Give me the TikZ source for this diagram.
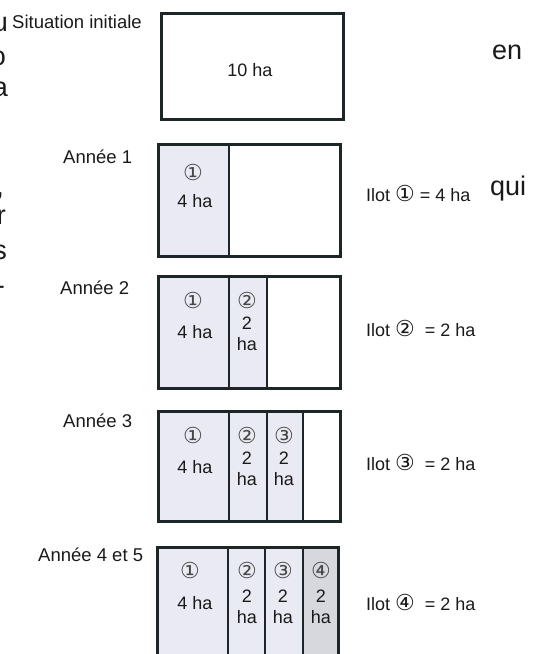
\documentclass[tikz,border=0pt]{standalone}
\usepackage{fontspec}
\setmainfont{Liberation Sans}
\newfontfamily\symf{DejaVu Sans}
\definecolor{lineC}{HTML}{1C2626}
\definecolor{lav}{HTML}{EAEAF4}
\definecolor{grayC}{HTML}{D6D8DE}
\definecolor{txtC}{HTML}{1A1A1A}
\tikzset{
  outerbox/.style={draw=lineC,line width=3pt},
  divline/.style={draw=lineC,line width=2pt},
  lbl/.style={font=\fontsize{18.5}{21}\selectfont,text=txtC,inner sep=0pt},
  ilot/.style={font=\fontsize{18}{21}\selectfont,text=txtC,inner sep=0pt},
  big/.style={font=\fontsize{27}{30}\selectfont,text=txtC,inner sep=0pt},
  circ/.style={font=\symf\fontsize{22}{24}\selectfont,text=txtC!80,inner sep=0pt},
  cell/.style={font=\fontsize{18}{20.5}\selectfont,text=txtC,inner sep=0pt,align=center},
}
\newcommand{\cn}[1]{{\symf\fontsize{22}{22}\selectfont #1}}
\begin{document}
\begin{tikzpicture}[x=1pt,y=-1pt]
\useasboundingbox (0,0) rectangle (545,654);
% left fragments of surrounding page text
\node[big,anchor=base east] (f1) at (8,31) {u};
\node[big,anchor=base east] (f2) at (6,65) {o};
\node[big,anchor=base east] (f3) at (8,96) {a};
\node[big,anchor=base east] (f4) at (4,195) {,};
\node[big,anchor=base east] (f5) at (6,224) {r};
\node[big,anchor=base east] (f6) at (7,259) {s};
\node[big,anchor=base east] (f7) at (5,294) {-};
% right fragments
\node[big,anchor=west] (en) at (492,52) {en};
\node[big,anchor=west] (qui) at (490,189) {qui};

% Situation initiale
\node[lbl,anchor=west] (t0) at (12,22) {Situation initiale};
\draw[outerbox,fill=white] (161,13) rectangle (343,119);
\node[cell] (c0) at (250,70) {10 ha};

% Annee 1
\node[lbl,anchor=west] (t1) at (63,157) {Année 1};
\fill[lav] (158,144) rectangle (229,256);
\draw[divline] (229,144) -- (229,256);
\draw[outerbox] (158,144) rectangle (340,256);
\node[circ] (b1a) at (193,172) {①};
\node[cell] (b1b) at (195,201) {4 ha};
\node[ilot,anchor=west] (i1) at (366,193) {Ilot \cn{①} = 4 ha};

% Annee 2
\node[lbl,anchor=west] (t2) at (60,288) {Année 2};
\fill[lav] (158,276) rectangle (267,388);
\draw[divline] (229,276) -- (229,388);
\draw[divline] (267,276) -- (267,388);
\draw[outerbox] (158,276) rectangle (340,388);
\node[circ] (b2a) at (193,300) {①};
\node[cell] (b2b) at (195,332) {4 ha};
\node[circ] (b2c) at (247,300) {②};
\node[cell] (b2d) at (247,334) {2\\ha};
\node[ilot,anchor=west] (i2) at (366,328) {Ilot \cn{②}\ \ = 2 ha};

% Annee 3
\node[lbl,anchor=west] (t3) at (63,421) {Année 3};
\fill[lav] (158,411) rectangle (303,521);
\draw[divline] (229,411) -- (229,521);
\draw[divline] (267,411) -- (267,521);
\draw[divline] (303,411) -- (303,521);
\draw[outerbox] (158,411) rectangle (340,521);
\node[circ] (b3a) at (193,435) {①};
\node[cell] (b3b) at (195,467) {4 ha};
\node[circ] (b3c) at (247,435) {②};
\node[cell] (b3d) at (247,469) {2\\ha};
\node[circ] (b3e) at (284,435) {③};
\node[cell] (b3f) at (284,469) {2\\ha};
\node[ilot,anchor=west] (i3) at (366,462) {Ilot \cn{③}\ \ = 2 ha};

% Annee 4 et 5
\node[lbl,anchor=west] (t4) at (38,555) {Année 4 et 5};
\fill[lav] (157,547) rectangle (303,670);
\fill[grayC] (303,547) rectangle (338,670);
\draw[divline] (228,547) -- (228,670);
\draw[divline] (265,547) -- (265,670);
\draw[divline] (303,547) -- (303,670);
\draw[outerbox] (157,547) rectangle (338,670);
\node[circ] (b4a) at (190,570) {①};
\node[cell] (b4b) at (195,603) {4 ha};
\node[circ] (b4c) at (247,570) {②};
\node[cell] (b4d) at (247,607) {2\\ha};
\node[circ] (b4e) at (283,570) {③};
\node[cell] (b4f) at (283,607) {2\\ha};
\node[circ] (b4g) at (321,570) {④};
\node[cell] (b4h) at (321,607) {2\\ha};
\node[ilot,anchor=west] (i4) at (366,602) {Ilot \cn{④}\ \ = 2 ha};
\end{tikzpicture}
\end{document}
